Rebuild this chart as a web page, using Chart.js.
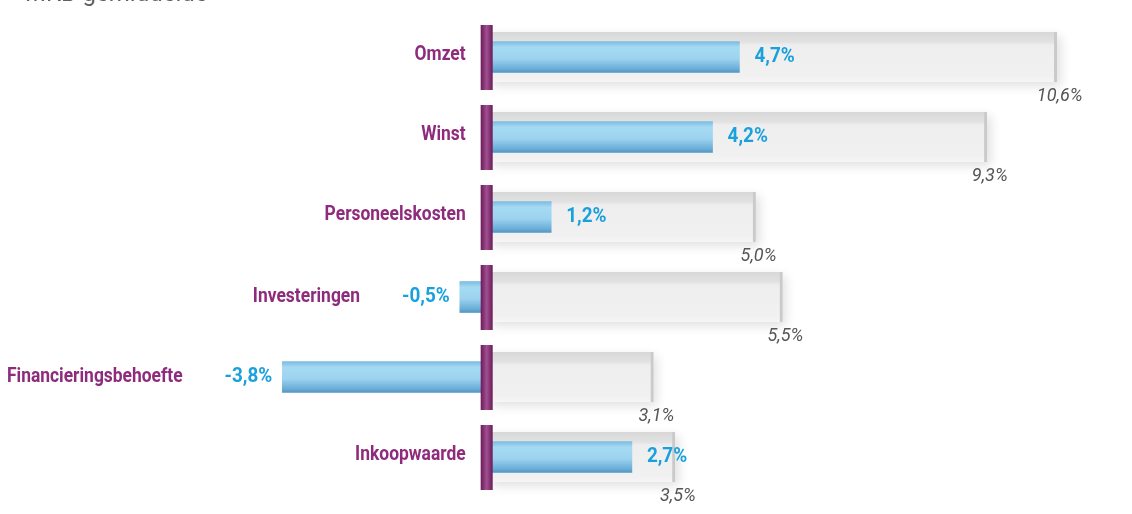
<!DOCTYPE html>
<html>
<head>
<meta charset="utf-8">
<script src="https://cdn.jsdelivr.net/npm/chart.js@4/dist/chart.umd.min.js"></script>
<style>
  html, body { margin: 0; padding: 0; background: #fff; }
  #wrap { width: 1132px; height: 514px; position: relative; }
</style>
</head>
<body>
<div id="wrap"><canvas id="chart"></canvas></div>
<script>
// data
var categories = ['Omzet', 'Winst', 'Personeelskosten', 'Investeringen', 'Financieringsbehoefte', 'Inkoopwaarde'];
var bedrijf = [4.7, 4.2, 1.2, -0.5, -3.8, 2.7];
var mkbGemiddelde = [10.6, 9.3, 5.0, 5.5, 3.1, 3.5];
var legendLabel = 'MKB-gemiddelde';

var FONT = "Roboto, 'Liberation Sans', sans-serif";
var PURPLE = '#8e2b7c';
var BLUE = '#1aa0dc';
var SQUEEZE = 0.83; // condensed look

function fmt(v) { return v.toFixed(1).replace('.', ','); }

// draws horizontally squeezed text, returns its drawn width
function narrowText(ctx, text, x, y, align, sx) {
  ctx.save();
  ctx.translate(x, y);
  ctx.scale(sx, 1);
  ctx.textAlign = align;
  ctx.fillText(text, 0, 0);
  var w = ctx.measureText(text).width * sx;
  ctx.restore();
  return w;
}

function rowGradient(ctx, chart, i, half, stops) {
  var y = chart.scales.y.getPixelForValue(i);
  var g = ctx.createLinearGradient(0, y - half, 0, y + half);
  stops.forEach(function (s) { g.addColorStop(s[0], s[1]); });
  return g;
}

var labelsPlugin = {
  id: 'rowLabels',
  beforeDatasetsDraw: function (chart) {
    var ctx = chart.ctx, x = chart.scales.x, y = chart.scales.y;
    var x0 = x.getPixelForValue(0);
    ctx.save();
    // soft shadow behind gray bars
    ctx.shadowColor = 'rgba(0,0,0,0.12)';
    ctx.shadowBlur = 10;
    ctx.shadowOffsetX = 4;
    ctx.shadowOffsetY = 4;
    ctx.fillStyle = '#f2f2f2';
    mkbGemiddelde.forEach(function (v, i) {
      var yc = y.getPixelForValue(i);
      var xe = x.getPixelForValue(v);
      ctx.fillRect(x0, yc - 25, xe - x0, 50);
    });
    ctx.restore();
  },
  afterDatasetsDraw: function (chart) {
    var ctx = chart.ctx, x = chart.scales.x, y = chart.scales.y;
    var x0 = x.getPixelForValue(0);
    ctx.save();
    // legend text at top (cut off by the frame)
    ctx.fillStyle = '#606060';
    ctx.font = '24px ' + FONT;
    ctx.textBaseline = 'alphabetic';
    narrowText(ctx, legendLabel, 25, 1, 'left', 1);

    categories.forEach(function (c, i) {
      var yc = y.getPixelForValue(i);
      // purple zero marker
      var g = ctx.createLinearGradient(x0 - 6, 0, x0 + 6, 0);
      g.addColorStop(0, '#6a1a5a');
      g.addColorStop(0.5, '#a0508f');
      g.addColorStop(1, '#6a1a5a');
      ctx.fillStyle = g;
      ctx.fillRect(x0 - 6, yc - 32, 12, 65);

      var v = bedrijf[i];
      var xe = x.getPixelForValue(v);
      ctx.textBaseline = 'middle';
      ctx.font = 'bold 21px ' + FONT;
      if (v >= 0) {
        ctx.fillStyle = BLUE;
        narrowText(ctx, fmt(v) + '%', xe + 15, yc, 'left', 0.9);
        ctx.fillStyle = PURPLE;
        narrowText(ctx, c, x0 - 21, yc - 2, 'right', SQUEEZE);
      } else {
        ctx.fillStyle = BLUE;
        var w = narrowText(ctx, fmt(v) + '%', xe - 10, yc, 'right', 0.9);
        ctx.fillStyle = PURPLE;
        narrowText(ctx, c, xe - 10 - w - 42, yc, 'right', SQUEEZE);
      }
      // MKB label under the end of the gray bar
      var xg = x.getPixelForValue(mkbGemiddelde[i]);
      ctx.fillStyle = '#555';
      ctx.font = 'italic 19px ' + FONT;
      narrowText(ctx, fmt(mkbGemiddelde[i]) + '%', xg + 3, yc + 39, 'center', 0.95);
    });
    ctx.restore();
  }
};

new Chart(document.getElementById('chart').getContext('2d'), {
  type: 'bar',
  data: {
    labels: categories,
    datasets: [
      {
        label: 'Bedrijf',
        data: bedrijf,
        grouped: false,
        order: 1,
        barThickness: 31,
        borderWidth: 0,
        backgroundColor: function (c) {
          var chart = c.chart;
          if (!chart.chartArea || c.dataIndex === undefined) return '#8cc8e8';
          return rowGradient(chart.ctx, chart, c.dataIndex, 16, [
            [0, '#79b9de'], [0.2, '#a6daf3'], [0.55, '#9dd3ef'], [0.85, '#6eb0d8'], [1, '#4f96c2']
          ]);
        }
      },
      {
        label: legendLabel,
        data: mkbGemiddelde,
        grouped: false,
        order: 2,
        barThickness: 50,
        borderWidth: { right: 3, top: 0, bottom: 0, left: 0 },
        borderSkipped: 'start',
        borderColor: '#cacaca',
        backgroundColor: function (c) {
          var chart = c.chart;
          if (!chart.chartArea || c.dataIndex === undefined) return '#eeeeee';
          return rowGradient(chart.ctx, chart, c.dataIndex, 25, [
            [0, '#d8d8d8'], [0.2, '#e2e2e2'], [0.26, '#eeeeee'], [0.9, '#f1f1f1'], [1, '#f6f6f6']
          ]);
        }
      }
    ]
  },
  options: {
    indexAxis: 'y',
    responsive: true,
    maintainAspectRatio: false,
    animation: false,
    layout: { padding: { top: 17, bottom: 17, left: 0, right: 0 } },
    plugins: { legend: { display: false }, tooltip: { enabled: false } },
    scales: {
      x: { display: false, min: -9.05, max: 12 },
      y: { display: false, offset: true }
    }
  },
  plugins: [labelsPlugin]
});
</script>
</body>
</html>
